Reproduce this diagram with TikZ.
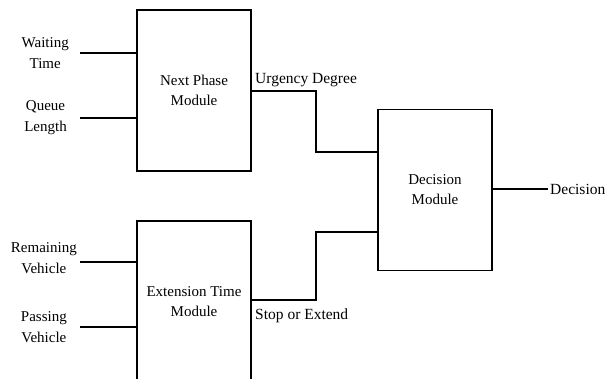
\documentclass[tikz,border=0pt]{standalone}
\usepackage{fontspec}
\setmainfont{Liberation Serif}
\usetikzlibrary{positioning}

\tikzset{
    module/.style={draw, line width=1.1pt, minimum width=114pt, minimum height=161pt,
        align=center, inner sep=0pt, font=\fontsize{15}{20}\selectfont},
    inlabel/.style={align=center, font=\fontsize{15}{21}\selectfont, inner sep=2pt},
    outlabel/.style={font=\fontsize{15.5}{18}\selectfont, inner sep=2pt},
    wire/.style={line width=1.1pt}
}

\begin{document}
\begin{tikzpicture}[x=1pt,y=-1pt]

    \useasboundingbox (0,0) rectangle (610,379);

    \node[module] (nextphase) at (194,90.5) {Next Phase\\Module};

    \node[module] (extension) at (194,301.5) {Extension Time\\Module};

    \node[module] (decision) at (435,190) {Decision\\Module};

    % inputs
    \coordinate (win) at (80,53);
    \coordinate (qin) at (80,118);
    \coordinate (rin) at (80,262);
    \coordinate (pin) at (80,327);

    \node[inlabel, left=9pt of win] (wait) {Waiting\\Time};
    \node[inlabel, left=11pt of qin] (queue) {Queue\\Length};
    \node[inlabel, left=1pt of rin, yshift=4pt] (remain) {Remaining\\Vehicle};
    \node[inlabel, left=11pt of pin] (pass) {Passing\\Vehicle};

    \draw[wire] (win) -- (win -| nextphase.west);
    \draw[wire] (qin) -- (qin -| nextphase.west);
    \draw[wire] (rin) -- (rin -| extension.west);
    \draw[wire] (pin) -- (pin -| extension.west);

    % outputs
    \coordinate (uout) at (251,91);
    \coordinate (sout) at (251,300);

    \draw[wire] (uout) -- (316,91) -- (316,152) -- (316,152 -| decision.west);
    \draw[wire] (sout) -- (316,300) -- (316,232) -- (316,232 -| decision.west);

    \node[outlabel, above right=2pt and 2pt of uout] (urgency) {Urgency Degree};
    \node[outlabel, below right=7pt and 2pt of sout] (stop) {Stop or Extend};

    \coordinate (dout) at (548,189);
    \draw[wire] (decision.east |- dout) -- (dout);
    \node[outlabel, right=0pt of dout] (result) {Decision};

\end{tikzpicture}
\end{document}
